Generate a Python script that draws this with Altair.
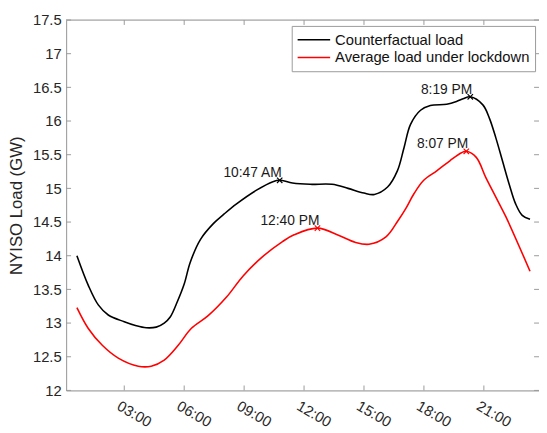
import altair as alt
import pandas as pd

# ---- data ------------------------------------------------------------------
black_hours = [0.63, 1.2, 1.7, 2.2, 3.0, 3.6, 4.1, 4.6, 5.0, 5.3, 5.66, 6.0, 6.3, 6.81,
               7.47, 8.0, 8.62, 9.6, 10.44, 10.78, 11.42, 12.3, 13.4, 14.2, 15.0,
               15.52, 16.18, 16.67, 17.0, 17.33, 17.83, 18.32, 19.14, 19.63, 19.96,
               20.32, 20.95, 21.28, 21.6, 21.93, 22.26, 22.59, 22.92, 23.31]
black_gw = [14.00, 13.56, 13.27, 13.12, 13.02, 12.96, 12.93, 12.94, 13.00, 13.09,
            13.32, 13.58, 13.90, 14.24, 14.48, 14.62, 14.77, 14.97, 15.10, 15.12,
            15.08, 15.06, 15.06, 15.00, 14.93, 14.91, 15.02, 15.26, 15.60, 15.95,
            16.16, 16.23, 16.25, 16.29, 16.33, 16.36, 16.24, 16.04, 15.75, 15.41,
            15.07, 14.77, 14.60, 14.54]

red_hours = [0.63, 1.2, 1.9, 2.7, 3.7, 4.35, 5.0, 5.7, 6.35, 7.2, 8.13, 8.95, 9.94,
             10.92, 11.5, 12.67, 13.75, 14.55, 15.25, 16.1, 16.7, 17.09, 17.5, 17.99,
             18.64, 19.3, 19.88, 20.12, 20.62, 21.1, 21.6, 22.1, 23.31]
red_gw = [13.23, 12.92, 12.67, 12.48, 12.36, 12.36, 12.45, 12.67, 12.92, 13.11,
          13.39, 13.70, 13.99, 14.21, 14.31, 14.41, 14.30, 14.20, 14.17, 14.28,
          14.52, 14.70, 14.92, 15.12, 15.26, 15.41, 15.53, 15.55, 15.46, 15.16,
          14.87, 14.58, 13.77]

series_names = ["Counterfactual load", "Average load under lockdown"]
series_colors = ["#000000", "#ff0000"]

peak_series = ["Counterfactual load", "Counterfactual load",
               "Average load under lockdown", "Average load under lockdown"]
peak_hours = [10.78, 20.32, 12.67, 20.12]
peak_gw = [15.12, 16.36, 14.41, 15.55]
peak_labels = ["10:47 AM", "8:19 PM", "12:40 PM", "8:07 PM"]

x_ticks = [3, 6, 9, 12, 15, 18, 21]
y_ticks = [12, 12.5, 13, 13.5, 14, 14.5, 15, 15.5, 16, 16.5, 17, 17.5]
x_domain = [0.09, 23.76]
y_domain = [12, 17.5]

# ---- styling ------------------------------------------------------------------
FONT = "Liberation Sans"
FRAME = "#9a9a9a"
TEXT = "#262626"
W, H = 480, 376
tick_px = 5
tx = tick_px * (x_domain[1] - x_domain[0]) / W
ty = tick_px * (y_domain[1] - y_domain[0]) / H

lines_df = pd.concat([
    pd.DataFrame({"hour": black_hours, "gw": black_gw, "series": series_names[0]}),
    pd.DataFrame({"hour": red_hours, "gw": red_gw, "series": series_names[1]}),
], ignore_index=True)
peaks_df = pd.DataFrame({"hour": peak_hours, "gw": peak_gw,
                         "series": peak_series, "label": peak_labels})

xscale = alt.Scale(domain=x_domain, nice=False, zero=False)
yscale = alt.Scale(domain=y_domain, nice=False, zero=False)
cscale = alt.Scale(domain=series_names, range=series_colors)

x_axis = alt.Axis(
    values=x_ticks, labelExpr="(datum.value < 10 ? '0' : '') + datum.value + ':00'",
    labelAngle=30, labelAlign="left", labelBaseline="top", labelPadding=8,
    labelOffset=-3, labelOverlap=False, ticks=False, tickSize=0, grid=False,
    domainColor=FRAME, labelFont=FONT, labelFontSize=15, labelColor=TEXT)
y_axis = alt.Axis(
    values=y_ticks, labelExpr="format(datum.value, '~g')", labelOverlap=False,
    ticks=False, tickSize=0, grid=False, domainColor=FRAME, labelFont=FONT,
    labelFontSize=15, labelColor=TEXT, labelPadding=5,
    titleFont=FONT, titleFontSize=17, titleFontWeight="normal", titleColor=TEXT,
    titleX=-45, titleY=H / 2, titleBaseline="alphabetic", titleAlign="center",
    titleAngle=270)
Y_TITLE = "NYISO Load (GW)"


def X(field):
    return alt.X(field, scale=xscale, axis=x_axis, title=None)


def Y(field):
    return alt.Y(field, scale=yscale, axis=y_axis, title=Y_TITLE)


lines = alt.Chart(lines_df).mark_line(interpolate="catmull-rom", strokeWidth=1.6).encode(
    x=X("hour:Q"), y=Y("gw:Q"),
    color=alt.Color("series:N", scale=cscale, legend=alt.Legend(
        title=None, orient="none", legendX=229, legendY=6, symbolType="stroke",
        symbolSize=1089, symbolStrokeWidth=1.6, clipHeight=18, labelFont=FONT,
        labelFontSize=15, labelColor="#111111", labelOffset=4, labelLimit=400,
        padding=5, rowPadding=0, fillColor="white", strokeColor=FRAME,
        cornerRadius=0)),
    detail="series:N")

markers = alt.Chart(peaks_df).mark_point(
    shape="M-1,-1L1,1M1,-1L-1,1", size=30, filled=False, strokeWidth=1.2, opacity=1
).encode(x=X("hour:Q"), y=Y("gw:Q"),
         color=alt.Color("series:N", scale=cscale, legend=None))

labels = alt.Chart(peaks_df).mark_text(
    align="right", baseline="alphabetic", dx=2, dy=-3, font=FONT, fontSize=14,
    color="#1a1a1a"
).encode(x=X("hour:Q"), y=Y("gw:Q"), text="label:N")

# frame: top border and inward ticks on all sides
top_df = pd.DataFrame({"x": [x_domain[0]], "x2": [x_domain[1]], "y": [y_domain[1]]})
top = alt.Chart(top_df).mark_rule(color=FRAME, strokeWidth=1).encode(
    x=X("x:Q"), x2="x2:Q", y=Y("y:Q"))

xt_df = pd.DataFrame({"x": x_ticks * 2,
                      "y": [y_domain[0]] * len(x_ticks) + [y_domain[1] - ty] * len(x_ticks),
                      "y2": [y_domain[0] + ty] * len(x_ticks) + [y_domain[1]] * len(x_ticks)})
xt = alt.Chart(xt_df).mark_rule(color=FRAME, strokeWidth=1).encode(
    x=X("x:Q"), y=Y("y:Q"), y2="y2:Q")

yt_df = pd.DataFrame({"y": y_ticks * 2,
                      "x": [x_domain[0]] * len(y_ticks) + [x_domain[1] - tx] * len(y_ticks),
                      "x2": [x_domain[0] + tx] * len(y_ticks) + [x_domain[1]] * len(y_ticks)})
yt = alt.Chart(yt_df).mark_rule(color=FRAME, strokeWidth=1).encode(
    y=Y("y:Q"), x=X("x:Q"), x2="x2:Q")

chart = alt.layer(lines, top, xt, yt, markers, labels).properties(
    width=W, height=H,
    padding={"left": 59, "top": 9, "right": 0, "bottom": 38},
    autosize=alt.AutoSizeParams(type="none"),
).configure_view(strokeWidth=0).configure(background="white")

chart.save("out.html", embed_options={"renderer": "svg", "actions": False})
